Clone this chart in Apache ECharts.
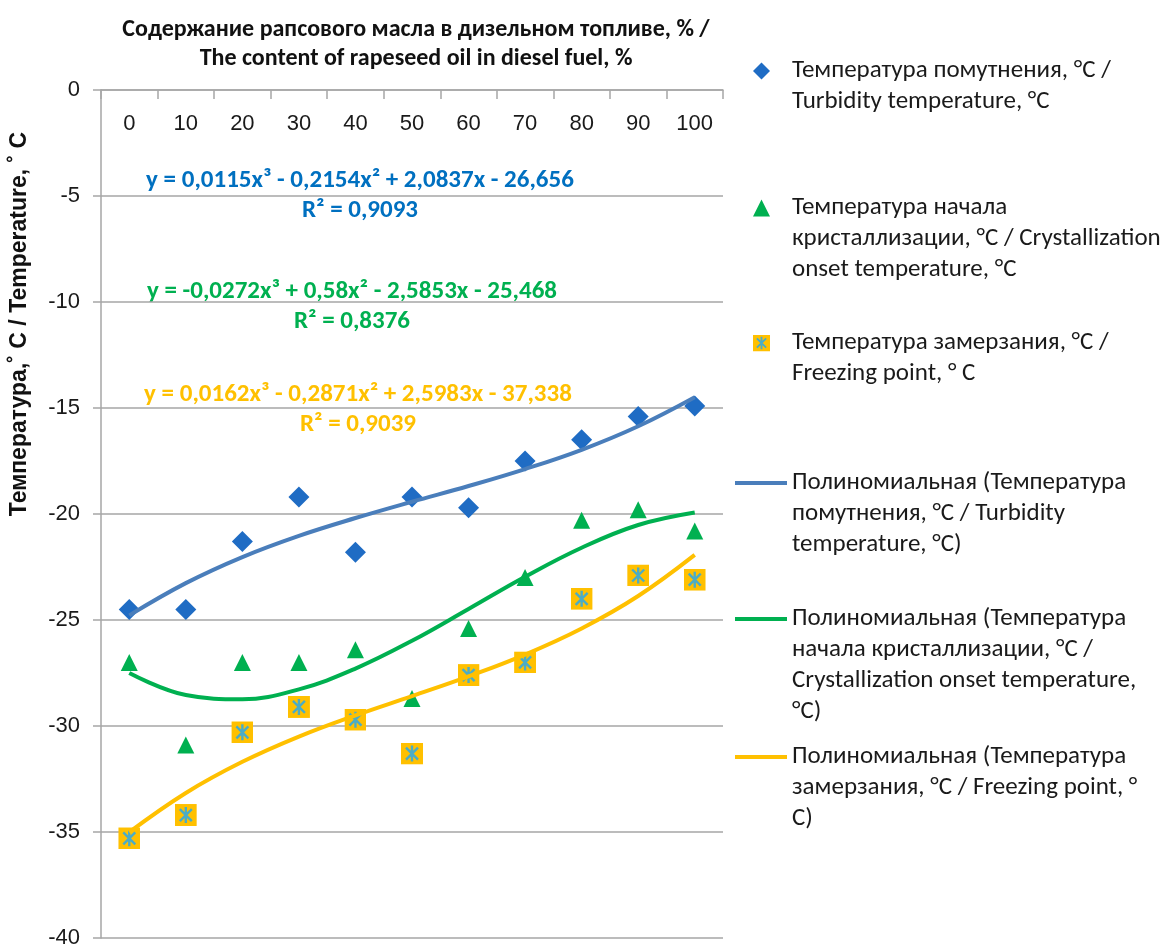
<!DOCTYPE html>
<html>
<head>
<meta charset="utf-8">
<script src="https://cdn.jsdelivr.net/npm/echarts@6/dist/echarts.min.js"></script>
<style>
html,body{margin:0;padding:0;background:#fff;}
#chart{width:1164px;height:949px;}
</style>
</head>
<body>
<div id="chart"></div>
<script>
// ---- data ----
const categories = ['0','10','20','30','40','50','60','70','80','90','100'];
const turbidity = [-24.5,-24.5,-21.3,-19.2,-21.8,-19.2,-19.7,-17.5,-16.5,-15.4,-14.9];
const crystallization = [-27.0,-30.9,-27.0,-27.0,-26.4,-28.7,-25.4,-23.0,-20.3,-19.8,-20.8];
const freezing = [-35.3,-34.2,-30.3,-29.1,-29.7,-31.3,-27.6,-27.0,-24.0,-22.9,-23.1];
const turbidityTrend = [-24.78,-23.26,-22.03,-21.03,-20.19,-19.42,-18.68,-17.88,-16.97,-15.86,-14.49];
const crystallizationTrend = [-27.50,-28.54,-28.74,-28.27,-27.29,-25.98,-24.48,-22.96,-21.59,-20.52,-19.93];
const freezingTrend = [-35.01,-33.16,-31.69,-30.50,-29.50,-28.59,-27.66,-26.63,-25.40,-23.87,-21.93];
const yMin = -40, yMax = 0, yStep = 5;

const seriesNames = [
  'Температура помутнения, °C / Turbidity temperature, °C',
  'Температура начала кристаллизации, °C / Crystallization onset temperature, °C',
  'Температура замерзания, °C / Freezing point, ° C',
  'Полиномиальная (Температура помутнения, °C / Turbidity temperature, °C)',
  'Полиномиальная (Температура начала кристаллизации, °C / Crystallization onset temperature, °C)',
  'Полиномиальная (Температура замерзания, °C / Freezing point, ° C)'
];
const legendLines = [
  ['Температура помутнения, °C /','Turbidity temperature, °C'],
  ['Температура начала','кристаллизации, °C / Crystallization','onset temperature, °C'],
  ['Температура замерзания, °C /','Freezing point, ° C'],
  ['Полиномиальная (Температура','помутнения, °C / Turbidity','temperature, °C)'],
  ['Полиномиальная (Температура','начала кристаллизации, °C /','Crystallization onset temperature,','°C)'],
  ['Полиномиальная (Температура','замерзания, °C / Freezing point, °','C)']
];
const equations = [
  ['y = 0,0115x³ - 0,2154x² + 2,0837x - 26,656','R² = 0,9093'],
  ['y = -0,0272x³ + 0,58x² - 2,5853x - 25,468','R² = 0,8376'],
  ['y = 0,0162x³ - 0,2871x² + 2,5983x - 37,338','R² = 0,9039']
];
const titleText = 'Содержание рапсового масла в дизельном топливе, % /\nThe content of rapeseed oil in diesel fuel, %';
const yName = 'Температура,˚ C / Temperature, ˚ C';

// ---- styles ----
const BLUE_MARK = '#1f6cc4', BLUE_LINE = '#4a7ebb', GREEN = '#00b050', YELLOW = '#ffc000';
const EQ_COLORS = ['#0070c0', '#00b050', '#ffc000'];
const FONT = "Carlito, 'Open Sans', sans-serif";
const AXFONT = "'Liberation Sans', Arial, sans-serif";

const svgMark = "<svg xmlns='http://www.w3.org/2000/svg' width='44' height='44' viewBox='0 0 22 22'>" +
  "<rect x='0' y='0' width='22' height='22' fill='#ffc000'/>" +
  "<path d='M11 3V19M5 5L17 17M17 5L5 17' stroke='#4bacc6' stroke-width='2.4' fill='none'/></svg>";
const freezeSymbol = 'image://data:image/svg+xml;charset=utf-8,' + encodeURIComponent(svgMark);

const LH = 31;
const legendIconCenters = [71, 208, 343, 483, 619, 757];
const legends = seriesNames.map((nm, i) => {
  const n = legendLines[i].length;
  const isLine = i >= 3;
  return {
    data: [isLine ? { name: nm, icon: 'rect' } : { name: nm }],
    orient: 'vertical',
    left: isLine ? 735 : 753,
    top: legendIconCenters[i] - (2 * n - 1) * LH / 2,
    padding: 0,
    itemWidth: isLine ? 52 : 17,
    itemHeight: isLine ? 4 : 17,
    selectedMode: false,
    textStyle: { fontFamily: FONT, fontSize: 25, color: '#1a1a1a', lineHeight: LH,
                 padding: isLine ? 0 : [0, 0, 0, 17] },
    formatter: () => '\n'.repeat(n - 1) + legendLines[i].join('\n')
  };
});

const graphics = [
  { type: 'text', x: 416, y: 44, style: { text: titleText, font: "bold 24px " + FONT, fill: '#111',
      align: 'center', textAlign: 'center', verticalAlign: 'middle', textVerticalAlign: 'middle', lineHeight: 29 } },
  { type: 'text', x: 20, y: 324, rotation: Math.PI / 2, style: { text: yName, font: "bold 23px " + AXFONT, fill: '#111',
      align: 'center', textAlign: 'center', verticalAlign: 'middle', textVerticalAlign: 'middle' } }
];
const eqPos = [[360, 181, 211], [352, 292, 322], [358, 395, 425]];
equations.forEach((eq, i) => {
  graphics.push({ type: 'text', x: eqPos[i][0], y: eqPos[i][1], style: { text: eq[0], font: "bold 25px " + FONT,
      fill: EQ_COLORS[i], align: 'center', textAlign: 'center', verticalAlign: 'middle', textVerticalAlign: 'middle' } });
  graphics.push({ type: 'text', x: eqPos[i][0], y: eqPos[i][2], style: { text: eq[1], font: "bold 25px " + FONT,
      fill: EQ_COLORS[i], align: 'center', textAlign: 'center', verticalAlign: 'middle', textVerticalAlign: 'middle' } });
});

const option = {
  animation: false,
  backgroundColor: '#fff',
  grid: { left: 101, right: 441, top: 90, bottom: 9, containLabel: false },
  legend: legends,
  graphic: graphics,
  xAxis: {
    type: 'category', data: categories, position: 'top', boundaryGap: true,
    axisLine: { show: true, lineStyle: { color: '#a6a6a6', width: 1.5 } },
    axisTick: { show: true, inside: true, length: 9, lineStyle: { color: '#a6a6a6', width: 1.5 } },
    axisLabel: { inside: true, margin: 23, fontFamily: AXFONT, fontSize: 22, color: '#1a1a1a' },
    splitLine: { show: false }
  },
  yAxis: {
    type: 'value', min: yMin, max: yMax, interval: yStep,
    axisLine: { show: true, lineStyle: { color: '#a6a6a6', width: 1.5 } },
    axisTick: { show: true, inside: false, length: 8, lineStyle: { color: '#a6a6a6', width: 1.5 } },
    axisLabel: { margin: 21, fontFamily: AXFONT, fontSize: 22, color: '#1a1a1a' },
    splitLine: { show: true, lineStyle: { color: '#a6a6a6', width: 1.5 } }
  },
  series: [
    { name: seriesNames[0], type: 'scatter', data: turbidity, symbol: 'diamond', symbolSize: 21, symbolKeepAspect: true,
      itemStyle: { color: BLUE_MARK, opacity: 1 }, silent: true },
    { name: seriesNames[1], type: 'scatter', data: crystallization, symbol: 'triangle', symbolSize: 17, symbolKeepAspect: true,
      itemStyle: { color: GREEN, opacity: 1 }, silent: true },
    { name: seriesNames[2], type: 'scatter', data: freezing, symbol: freezeSymbol, symbolSize: 22, symbolKeepAspect: true,
      itemStyle: { opacity: 1 }, silent: true },
    { name: seriesNames[3], type: 'line', data: turbidityTrend, smooth: 0.4, symbol: 'none', showSymbol: false,
      lineStyle: { color: BLUE_LINE, width: 4 }, itemStyle: { color: BLUE_LINE }, silent: true },
    { name: seriesNames[4], type: 'line', data: crystallizationTrend, smooth: 0.4, symbol: 'none', showSymbol: false,
      lineStyle: { color: GREEN, width: 4 }, itemStyle: { color: GREEN }, silent: true },
    { name: seriesNames[5], type: 'line', data: freezingTrend, smooth: 0.4, symbol: 'none', showSymbol: false,
      lineStyle: { color: YELLOW, width: 4 }, itemStyle: { color: YELLOW }, silent: true }
  ]
};
const chart = echarts.init(document.getElementById('chart'));
chart.setOption(option);
</script>
</body>
</html>
